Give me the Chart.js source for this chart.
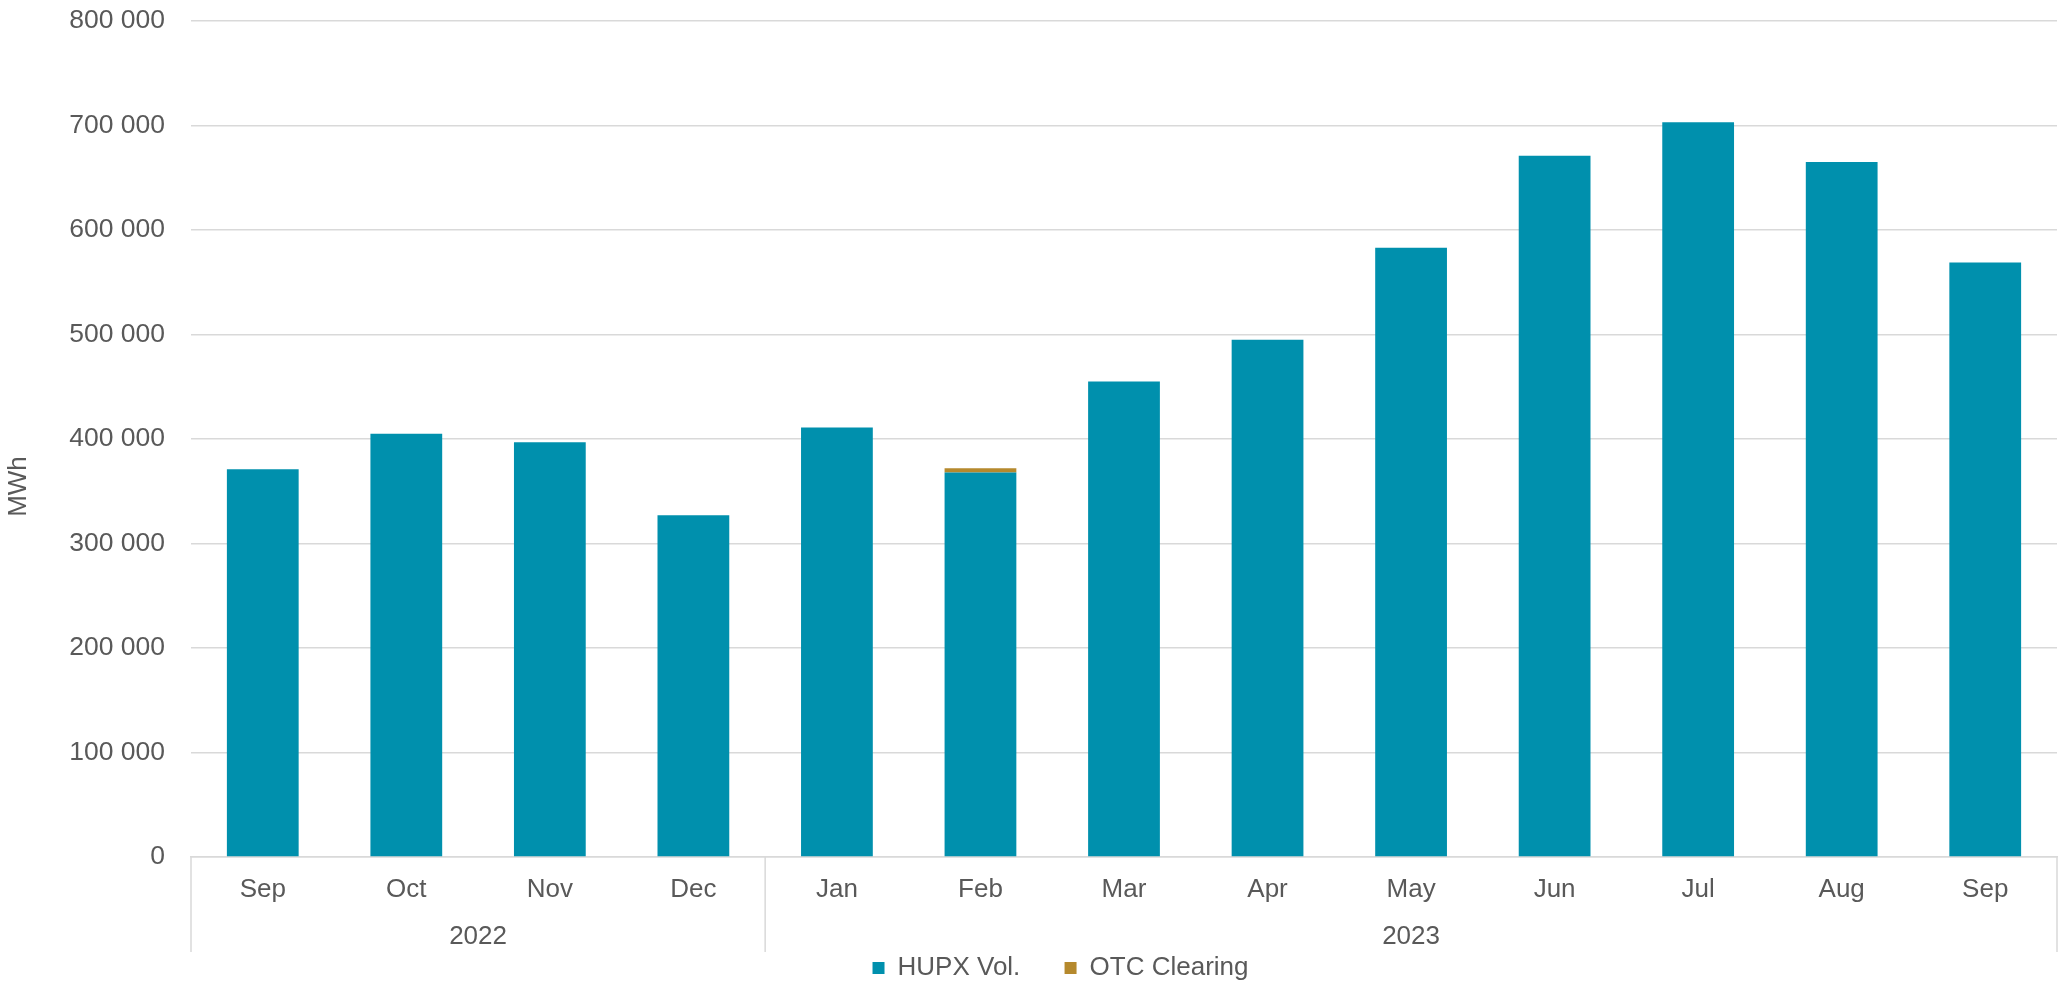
<!DOCTYPE html>
<html>
<head>
<meta charset="utf-8">
<script src="https://cdn.jsdelivr.net/npm/chart.js@4"></script>
<style>
  html, body { margin: 0; padding: 0; background: #ffffff; }
  #wrap { width: 2065px; height: 991px; }
</style>
</head>
<body>
<div id="wrap"><canvas id="volChart" width="2065" height="991"></canvas></div>
<script>
// Monthly volumes, MWh
const months = ["Sep", "Oct", "Nov", "Dec", "Jan", "Feb", "Mar", "Apr", "May", "Jun", "Jul", "Aug", "Sep"];
const hupxVol = [371000, 405000, 397000, 327000, 411000, 368000, 455000, 495000, 583000, 671000, 703000, 665000, 569000];
const otcClearing = [0, 0, 0, 0, 0, 4000, 0, 0, 0, 0, 0, 0, 0];

// year groups under the month labels
const yearLabels = ["2022", "2023"];
const yearCounts = [4, 9];

const textColor = "#595959";
const gridColor = "#d9d9d9";
const fontFamily = "'Liberation Sans', Arial, sans-serif";

// draws the year row, its separators and the y title
const yearRowPlugin = {
  id: "yearRow",
  afterDraw(chart) {
    const ctx = chart.ctx;
    const xs = chart.scales.x;
    const area = chart.chartArea;
    const half = (xs.getPixelForValue(1) - xs.getPixelForValue(0)) / 2;
    const rowBottom = area.bottom + 95;
    ctx.save();
    ctx.strokeStyle = gridColor;
    ctx.lineWidth = 1.5;
    ctx.fillStyle = textColor;
    ctx.font = "26px " + fontFamily;
    ctx.textAlign = "center";
    ctx.textBaseline = "middle";
    let start = 0;
    yearLabels.forEach((yr, i) => {
      const left = xs.getPixelForValue(start) - half;
      const right = xs.getPixelForValue(start + yearCounts[i] - 1) + half;
      ctx.beginPath();
      ctx.moveTo(left, area.bottom);
      ctx.lineTo(left, rowBottom);
      ctx.stroke();
      if (i === yearLabels.length - 1) {
        ctx.beginPath();
        ctx.moveTo(right, area.bottom);
        ctx.lineTo(right, rowBottom);
        ctx.stroke();
      }
      ctx.fillText(yr, (left + right) / 2, area.bottom + 80);
      start += yearCounts[i];
    });
    // y axis title
    ctx.translate(19, (area.top + rowBottom) / 2);
    ctx.rotate(-Math.PI / 2);
    ctx.fillText("MWh", 0, 0);
    ctx.restore();
  }
};

function fmt(v) {
  return String(v).replace(/\B(?=(\d{3})+(?!\d))/g, " ");
}

new Chart(document.getElementById("volChart"), {
  type: "bar",
  data: {
    labels: months,
    datasets: [
      {
        label: "HUPX Vol.",
        data: hupxVol,
        backgroundColor: "#0090ad",
        categoryPercentage: 1,
        barPercentage: 0.5
      },
      {
        label: "OTC Clearing",
        data: otcClearing,
        backgroundColor: "#b5892d",
        categoryPercentage: 1,
        barPercentage: 0.5
      }
    ]
  },
  options: {
    responsive: false,
    animation: false,
    layout: { autoPadding: false, padding: { top: 21, right: 8, left: 64, bottom: 0 } },
    plugins: {
      tooltip: { enabled: false },
      legend: {
        position: "bottom",
        labels: {
          color: textColor,
          font: { family: fontFamily, size: 26 },
          boxWidth: 12,
          boxHeight: 12,
          padding: 0,
          generateLabels(chart) {
            const items = Chart.defaults.plugins.legend.labels.generateLabels(chart);
            // wider gap between the two entries
            items[0].text += "\u2003\u2002\u2009";
            return items;
          }
        }
      }
    },
    scales: {
      x: {
        stacked: true,
        grid: { display: false, drawTicks: false },
        border: { color: gridColor, width: 1.5 },
        ticks: {
          color: textColor,
          font: { family: fontFamily, size: 26 },
          padding: 17,
          maxRotation: 0
        },
        afterFit(scale) { scale.height = 98; }
      },
      y: {
        stacked: true,
        min: 0,
        max: 800000,
        grid: { color: gridColor, lineWidth: 1.5, drawTicks: false },
        border: { display: false },
        ticks: {
          stepSize: 100000,
          color: textColor,
          font: { family: fontFamily, size: 26.5 },
          padding: 26,
          callback: (v) => fmt(v)
        },
        afterFit(scale) { scale.width = 127; scale.paddingTop = 0; }
      }
    }
  },
  plugins: [yearRowPlugin]
});
</script>
</body>
</html>
